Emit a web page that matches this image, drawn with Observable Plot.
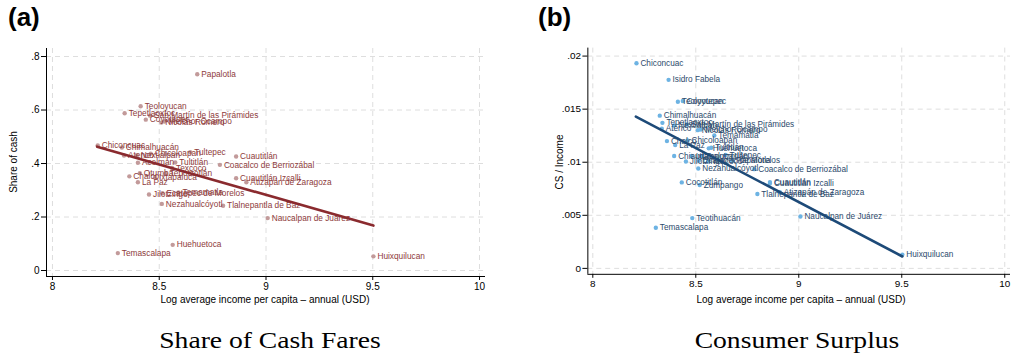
<!DOCTYPE html>
<html><head><meta charset="utf-8">
<script src="https://cdn.jsdelivr.net/npm/d3@7"></script>
<script src="https://cdn.jsdelivr.net/npm/@observablehq/plot@0.6"></script>
<style>
body{margin:0;background:#fff;overflow:hidden;font-family:"Liberation Sans",Arial,sans-serif}
#wrap{position:relative;width:1012px;height:354px;overflow:hidden;background:#fff}
.panel{position:absolute;top:0}
.tag{position:absolute;top:4px;font-weight:bold;font-size:26px;line-height:1}
.xt{position:absolute;top:295px;font-size:10px;transform:translateX(-50%);white-space:nowrap;line-height:1}
.yt{position:absolute;font-size:10px;transform:translate(-50%,-50%) rotate(-90deg);white-space:nowrap;line-height:1}
.cap{position:absolute;top:328px;font-family:"Liberation Serif","DejaVu Serif",serif;font-size:24px;transform:translateX(-50%) scaleX(1.15);white-space:nowrap;line-height:1}
</style>
</head><body>
<div id="wrap">
  <div class="tag" style="left:8px">(a)</div>
  <div class="tag" style="left:538px">(b)</div>
  <div id="pa" class="panel" style="left:0"></div>
  <div id="pb" class="panel" style="left:506px"></div>
  <div class="yt" style="left:14px;top:162px">Share of cash</div>
  <div class="yt" style="left:560px;top:162px">CS / Income</div>
  <div class="xt" style="left:265px">Log average income per capita – annual (USD)</div>
  <div class="xt" style="left:801px">Log average income per capita – annual (USD)</div>
  <div class="cap" style="left:270px">Share of Cash Fares</div>
  <div class="cap" style="left:797px">Consumer Surplus</div>
</div>
<script>
// ---- data ----
const municipality = [
  "Chiconcuac","Isidro Fabela","Teoloyucan","Coyotepec","Chimalhuacán","Tepetlaoxtoc",
  "Atenco","Nextlalpan","San Martín de las Pirámides","Nicolás Romero","Melchor Ocampo",
  "Temamatla","Chalco","Chicoloapan","La Paz","Huehuetoca","Tultitlán","Chiautla",
  "Jilotzingo","Ixtapaluca","Tultepec","Ecatepec de Morelos","Papalotla","Tepotzotlán",
  "Texcoco","Otumba","Acolman","Nezahualcóyotl","Coacalco de Berriozábal","Cocotitlán",
  "Zumpango","Cuautitlán","Cuautitlán Izcalli","Tlalnepantla de Baz","Atizapán de Zaragoza",
  "Naucalpan de Juárez","Teotihuacán","Temascalapa","Huixquilucan"
];
const logIncome = [
  8.212,8.368,8.413,8.437,8.325,8.338,
  8.335,8.395,8.457,8.51,8.525,
  8.59,8.36,8.46,8.40,8.563,8.575,8.395,
  8.452,8.48,8.645,8.515,8.678,8.53,
  8.56,8.409,8.40,8.512,8.784,8.432,
  8.519,8.86,8.86,8.799,8.908,
  9.008,8.483,8.306,9.503
];
const cashShare = [
  0.468,null,0.614,0.564,0.46,0.588,
  0.43,0.43,0.579,0.553,0.557,
  0.292,0.352,0.437,0.33,0.096,0.404,null,
  0.284,0.348,0.442,0.289,0.734,0.363,
  0.383,0.364,0.403,0.249,0.395,null,
  null,0.426,0.345,0.242,0.33,
  0.196,null,0.065,0.053
];
const csIncome = [
  0.01932,0.01776,0.0157,0.01577,0.01439,0.01371,
  0.01315,0.01346,0.01355,0.01302,0.01308,
  0.01252,0.01199,0.01206,0.01162,0.01131,0.01136,0.01059,
  0.01007,0.01059,0.01068,0.01014,0.01014,0.01056,
  0.01009,null,null,0.00941,0.00935,0.0081,
  0.00785,0.00813,0.00799,0.00701,0.00717,
  0.00489,0.00474,0.00383,0.0013
];
// fitted lines (end points)
const fitX = [8.209, 9.503];
const fitCash = [0.463, 0.168];
const fitCS = [0.0143, 0.00112];

const xTicks = [8, 8.5, 9, 9.5, 10];
const cashTicks = [0, 0.2, 0.4, 0.6, 0.8];
const csTicks = [0, 0.005, 0.01, 0.015, 0.02];

// ---- build ----
const rows = municipality.map((name, i) => ({name, inc: logIncome[i], cash: cashShare[i], cs: csIncome[i]}));
const stata = d => d === 0 ? "0" : String(+d.toFixed(4)).replace(/^0\./, ".");

function panel({yKey, yDomain, yTicks, xDomain, marginLeft, marginRight, width, dotColor, textColor, lineColor, fitY}) {
  const fit = fitX.map((x, i) => ({x, y: fitY[i]}));
  const data = rows.filter(d => d[yKey] != null);
  const grid = {stroke: "#dedede", strokeOpacity: 1, strokeWidth: 1, strokeDasharray: "5,4"};
  return Plot.plot({
    width, height: 310,
    marginTop: 48, marginBottom: 34, marginLeft, marginRight,
    style: {fontFamily: "'Liberation Sans', Arial, sans-serif", fontSize: "10px", background: "transparent", color: "#000", overflow: "visible"},
    x: {domain: xDomain},
    y: {domain: yDomain},
    marks: [
      Plot.gridX(xTicks, grid),
      Plot.gridY(yTicks, grid),
      Plot.axisX(xTicks, {tickSize: 4, tickPadding: 2, tickFormat: d => String(d), label: null}),
      Plot.axisY(yTicks, {tickSize: 5, tickPadding: 2, tickFormat: stata, label: null}),
      Plot.ruleX([xDomain[0]], {stroke: "#000", strokeWidth: 1}),
      Plot.ruleY([yDomain[0]], {stroke: "#000", strokeWidth: 1}),
      Plot.dot(data, {x: "inc", y: yKey, r: 2.2, fill: dotColor, stroke: null}),
      Plot.text(data, {x: "inc", y: yKey, text: "name", dx: 4, textAnchor: "start", fill: textColor, fontSize: 8.3}),
      Plot.line(fit, {x: "x", y: "y", stroke: lineColor, strokeWidth: 2.6})
    ]
  });
}

document.getElementById("pa").append(panel({
  yKey: "cash", yDomain: [-0.0224, 0.83], yTicks: cashTicks,
  xDomain: [7.972, 10.028], marginLeft: 46, marginRight: 21, width: 506,
  dotColor: "#c29a9a", textColor: "#8e3b3b", lineColor: "#8a2a2e", fitY: fitCash
}));
document.getElementById("pb").append(panel({
  yKey: "cs", yDomain: [-0.00056, 0.02075], yTicks: csTicks,
  xDomain: [7.976, 10.028], marginLeft: 82, marginRight: 2, width: 510,
  dotColor: "#6db3e3", textColor: "#2c4a6c", lineColor: "#1d4a78", fitY: fitCS
}));
</script>
</body></html>
